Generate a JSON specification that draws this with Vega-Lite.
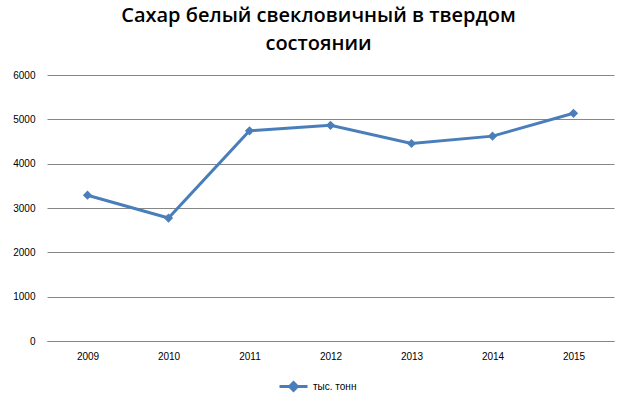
{
  "$schema": "https://vega.github.io/schema/vega-lite/v6.json",
  "width": 567,
  "height": 266,
  "autosize": {"type": "none"},
  "padding": {"left": 47, "top": 75, "right": 13, "bottom": 58},
  "background": "white",
  "title": {
    "text": ["Сахар белый свекловичный в твердом", "состоянии"],
    "font": "Open Sans",
    "fontSize": 20,
    "fontWeight": 600,
    "lineHeight": 28,
    "color": "black",
    "anchor": "middle",
    "frame": "group",
    "offset": 16,
    "dx": -12
  },
  "data": {
    "values": [
      {"year": "2009", "value": 3288, "series": "тыс. тонн"},
      {"year": "2010", "value": 2773, "series": "тыс. тонн"},
      {"year": "2011", "value": 4742, "series": "тыс. тонн"},
      {"year": "2012", "value": 4864, "series": "тыс. тонн"},
      {"year": "2013", "value": 4455, "series": "тыс. тонн"},
      {"year": "2014", "value": 4621, "series": "тыс. тонн"},
      {"year": "2015", "value": 5136, "series": "тыс. тонн"}
    ]
  },
  "mark": {
    "type": "line",
    "strokeWidth": 3,
    "point": {"shape": "diamond", "filled": true, "size": 85}
  },
  "encoding": {
    "x": {
      "field": "year",
      "type": "ordinal",
      "scale": {"padding": 0.5},
      "axis": {
        "title": null,
        "labelAngle": 0,
        "labelFont": "Liberation Sans",
        "labelFontSize": 10,
        "labelColor": "black",
        "ticks": false,
        "domainColor": "#868686",
        "labelPadding": 10
      }
    },
    "y": {
      "field": "value",
      "type": "quantitative",
      "scale": {"domain": [0, 6000]},
      "axis": {
        "title": null,
        "format": "d",
        "values": [0, 1000, 2000, 3000, 4000, 5000, 6000],
        "labelFont": "Liberation Sans",
        "labelFontSize": 10,
        "labelColor": "black",
        "ticks": false,
        "domain": false,
        "labelPadding": 12,
        "gridColor": "#868686",
        "gridOpacity": 1
      }
    },
    "color": {
      "field": "series",
      "type": "nominal",
      "scale": {"range": ["#4A7EBB"]},
      "legend": {
        "title": null,
        "orient": "none",
        "legendX": 231,
        "legendY": 296,
        "symbolType": "M-1,0H1M0,-0.28L0.28,0L0,0.28L-0.28,0Z",
        "symbolStrokeWidth": 3,
        "symbolSize": 784,
        "symbolFillColor": "#4A7EBB",
        "labelFont": "Liberation Sans",
        "labelFontSize": 10,
        "labelColor": "black",
        "labelOffset": 4
      }
    }
  },
  "config": {"view": {"stroke": null}}
}
